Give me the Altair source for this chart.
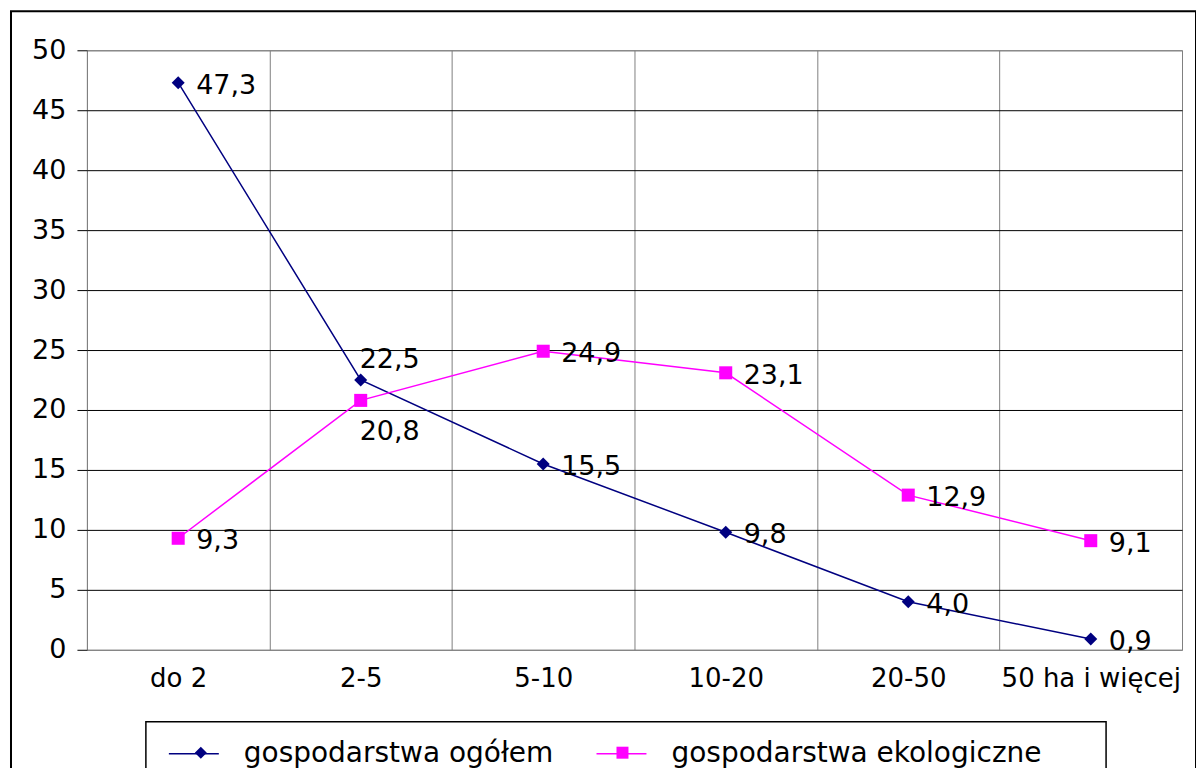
import altair as alt
import pandas as pd

categories = ["do 2", "2-5", "5-10", "10-20", "20-50", "50 ha i więcej"]
series_names = ["gospodarstwa ogółem", "gospodarstwa ekologiczne"]
ogolem = [47.3, 22.5, 15.5, 9.8, 4.0, 0.9]
ekologiczne = [9.3, 20.8, 24.9, 23.1, 12.9, 9.1]
y_ticks = [0, 5, 10, 15, 20, 25, 30, 35, 40, 45, 50]
colors = ["#000080", "#FF00FF"]
marker_shapes = ["diamond", "square"]

rows = []
for c, a, b in zip(categories, ogolem, ekologiczne):
    rows.append({"cat": c, "series": series_names[0], "value": a})
    rows.append({"cat": c, "series": series_names[1], "value": b})
df = pd.DataFrame(rows)

FONT = "DejaVu Sans"
FS = 27
LFS = 28

x_enc = alt.X(
    "cat:N", sort=categories,
    scale=alt.Scale(type="band", paddingInner=0, paddingOuter=0),
    axis=alt.Axis(title=None, tickBand="extent", grid=True, gridColor="#808080",
                  gridWidth=1, ticks=False, domain=False, labelAngle=0,
                  labelFont=FONT, labelFontSize=26, labelColor="black",
                  labelPadding=16, labelLimit=0),
)
y_enc = alt.Y(
    "value:Q",
    scale=alt.Scale(domain=[0, 50], nice=False),
    axis=alt.Axis(title=None, values=y_ticks, grid=True,
                  gridColor={"condition": {"test": "datum.value == 0 || datum.value == 50",
                                           "value": "#808080"}, "value": "black"},
                  gridWidth=1, tickSize=10, tickColor="black", tickWidth=1,
                  domain=False, labelFont=FONT, labelFontSize=FS,
                  labelColor="black", labelPadding=11),
)

base = alt.Chart(df)

# decorations: outer frame and legend frame
frame = alt.Chart(alt.Data(values=[{}])).mark_rect(
    fill="transparent", stroke="black", strokeWidth=2
).encode(x=alt.value(-76), x2=alt.value(1110), y=alt.value(-39), y2=alt.value(760))
legend_box = alt.Chart(alt.Data(values=[{}])).mark_rect(
    fill="transparent", stroke="black", strokeWidth=1.5
).encode(x=alt.value(59), x2=alt.value(1020), y=alt.value(672), y2=alt.value(760))

LEG_X = 81
ROW_C = 703   # legend row centre, relative to plot top
COLPAD = 40
SYM_W = 50
MK = 144
MK_W = MK ** 0.5

lines = base.mark_line(strokeWidth=1.5).encode(
    x=x_enc, y=y_enc,
    stroke=alt.Stroke(
        "series:N", sort=series_names, scale=alt.Scale(range=colors),
        legend=alt.Legend(title=None, symbolType="stroke", symbolSize=SYM_W ** 2,
                          symbolStrokeWidth=1.5, legendX=LEG_X, legendY=ROW_C - SYM_W / 2,
                          labelOffset=24, columnPadding=COLPAD),
    ),
)

# marker-only legend (no labels), laid over the line legend
leg_b = alt.Legend(title=None, symbolSize=MK, symbolStrokeWidth=0,
                   legendX=LEG_X + SYM_W / 2 - MK_W / 2, legendY=ROW_C - LFS / 2,
                   labelOffset=0, labelExpr="''", columnPadding=394)
points = base.mark_point(filled=True, opacity=1, size=170).encode(
    x=x_enc, y=y_enc,
    fill=alt.Fill("series:N", scale=alt.Scale(domain=series_names, range=colors), legend=leg_b),
    shape=alt.Shape("series:N", scale=alt.Scale(domain=series_names, range=marker_shapes),
                    legend=leg_b),
)

labels = base.transform_calculate(label="replace(format(datum.value, '.1f'), '.', ',')")
txt_kw = dict(align="left", baseline="middle", font=FONT, fontSize=FS, color="black")
is_mid = alt.datum.cat == categories[1]
main_txt = labels.transform_filter(~is_mid).mark_text(dx=18, dy=3, **txt_kw).encode(
    x=x_enc, y=y_enc, text="label:N")
up_txt = labels.transform_filter(is_mid & (alt.datum.series == series_names[0])).mark_text(
    dx=-1, dy=-20, **txt_kw).encode(x=x_enc, y=y_enc, text="label:N")
down_txt = labels.transform_filter(is_mid & (alt.datum.series == series_names[1])).mark_text(
    dx=-1, dy=32, **txt_kw).encode(x=x_enc, y=y_enc, text="label:N")

chart = alt.layer(
    frame, legend_box, lines, points, main_txt, up_txt, down_txt
).properties(
    width=1096, height=600,
    autosize=alt.AutoSizeParams(type="none"),
    padding={"left": 79, "top": 42, "right": 14, "bottom": 118},
    background="white",
).configure_view(
    stroke="#808080", strokeWidth=1
).configure_legend(
    orient="none", direction="horizontal",
    labelFont=FONT, labelFontSize=LFS, labelColor="black", labelLimit=0,
    padding=0, symbolOpacity=1,
)

chart.save("out.html", embed_options={"renderer": "svg", "actions": False})
